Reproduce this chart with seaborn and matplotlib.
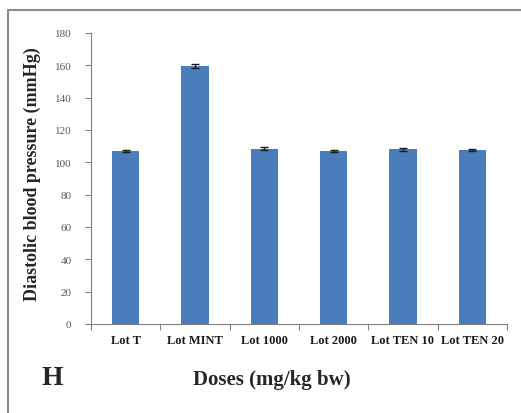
import matplotlib
matplotlib.use("Agg")
import matplotlib.pyplot as plt
from matplotlib.lines import Line2D
import seaborn as sns
import pandas as pd
import numpy as np

categories = ["Lot T", "Lot MINT", "Lot 1000", "Lot 2000", "Lot TEN 10", "Lot TEN 20"]
values = [107.0, 159.5, 108.5, 107.0, 108.0, 107.5]
errors = [0.6, 1.2, 0.7, 0.6, 0.7, 0.6]
y_ticks = [0, 20, 40, 60, 80, 100, 120, 140, 160, 180]

sns.set_theme(style="white")
plt.rcParams['font.family'] = ['Liberation Serif', 'DejaVu Serif']

df = pd.DataFrame({"cat": categories, "val": values})

fig = plt.figure(figsize=(5.21, 4.14), dpi=100)
ax = fig.add_axes([91/521, 1-325/414, (507-91)/521, (325-34)/414])

sns.barplot(data=df, x="cat", y="val", color="#4a7ebb", saturation=1, width=0.39,
            errorbar=None, ax=ax, edgecolor="none")
x = np.arange(len(categories))
ax.errorbar(x, values, yerr=errors, fmt="none", ecolor="#1a1a1a", elinewidth=1.0,
            capsize=3, capthick=1.0)

ax.set_ylim(0, 180)
ax.set_xlim(-0.5, len(categories) - 0.5)
ax.set_yticks(y_ticks)
ax.set_yticklabels([str(t) for t in y_ticks], fontsize=8, color="#595959")
ax.set_xticks(x)
ax.set_xticklabels(categories, fontsize=9, fontweight="bold", color="#1a1a1a")
ax.tick_params(axis="x", length=0, pad=7)
ax.set_xticks(np.arange(-0.5, len(categories)), minor=True)
ax.tick_params(axis="x", which="minor", length=4, color="#808080", width=0.8, direction="out", bottom=True)
ax.tick_params(axis="y", length=4, color="#808080", width=0.8, direction="out", left=True, pad=10)

for s in ["top", "right"]:
    ax.spines[s].set_visible(False)
for s in ["left", "bottom"]:
    ax.spines[s].set_color("#808080")
    ax.spines[s].set_linewidth(0.8)

ax.set_xlabel("")
ax.set_ylabel("")
fig.text(32/521, 1-174/414, "Diastolic blood pressure (mmHg)", rotation=90,
         ha="center", va="center", fontsize=13, fontweight="bold")
fig.text(272/521, 1-380/414, "Doses (mg/kg bw)", ha="center", va="center",
         fontsize=15, fontweight="bold")
fig.text(52/521, 1-379/414, "H", ha="center", va="center", fontsize=20, fontweight="bold")

# outer frame (top and left edges)
fig.add_artist(Line2D([8/521, 1], [1-10.5/414, 1-10.5/414], transform=fig.transFigure,
                      color="#8c8c8c", lw=1.5))
fig.add_artist(Line2D([8/521, 8/521], [0, 1-10.5/414], transform=fig.transFigure,
                      color="#8c8c8c", lw=1.5))

fig.savefig("out.png", dpi=100)
